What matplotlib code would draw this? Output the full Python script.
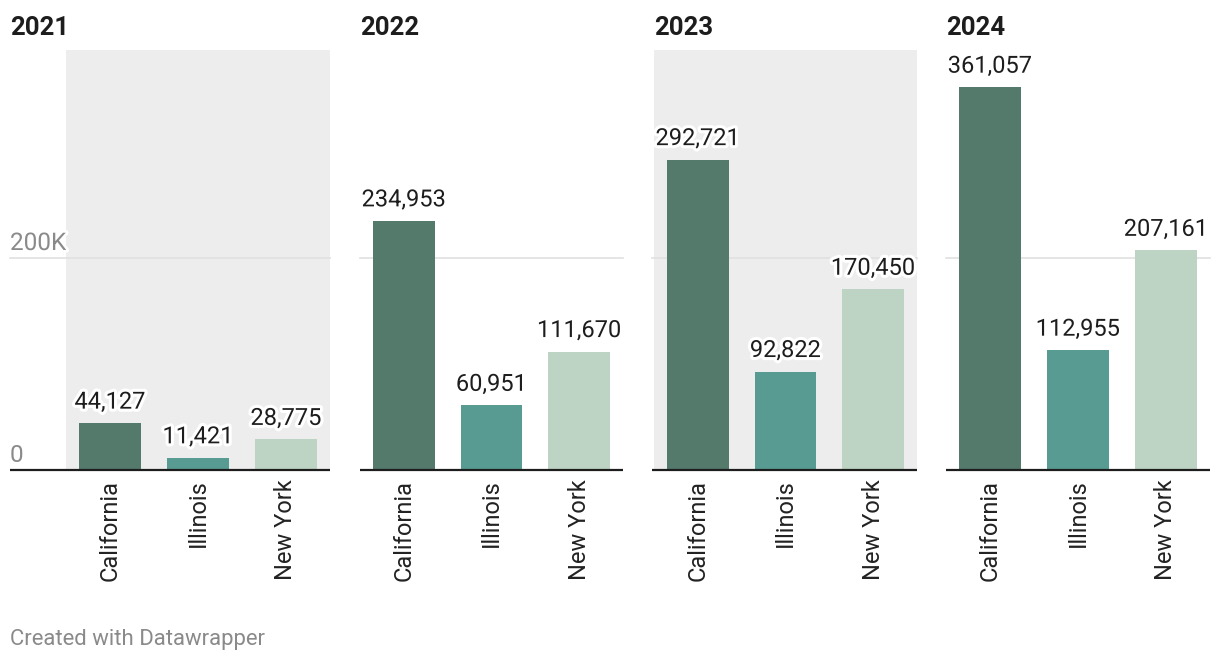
import matplotlib
matplotlib.use("Agg")
import matplotlib.pyplot as plt
import matplotlib.patheffects as pe
import matplotlib.transforms as mtransforms

plt.rcParams['font.family'] = ['Roboto', 'DejaVu Sans']

# ---- data ----
years = ['2021', '2022', '2023', '2024']
states = ['California', 'Illinois', 'New York']
california = [44127, 234953, 292721, 361057]
illinois = [11421, 60951, 92822, 112955]
new_york = [28775, 111670, 170450, 207161]
y_ticks = [0, 200000]
y_tick_labels = ['0', '200K']

# ---- style / layout ----
colors = ['#547a6c', '#589b92', '#bdd4c4']
W, H = 1220, 662
panel_x = [(66, 330), (360, 623), (654, 917), (946, 1210)]
title_x = [10, 360, 654, 946]
base_start = [10, 360, 652, 946]
shaded = [True, False, True, False]
y_top, y_bot, y_grid = 50, 470, 258
ymax = 200000 * (y_bot - y_top) / (y_bot - y_grid)

fig = plt.figure(figsize=(W / 100, H / 100), dpi=100)

for p, year in enumerate(years):
    x0, x1 = panel_x[p]
    ax = fig.add_axes([x0 / W, 1 - y_bot / H, (x1 - x0) / W, (y_bot - y_top) / H])
    vals = [california[p], illinois[p], new_york[p]]
    ax.set_facecolor('#ededed' if shaded[p] else 'none')
    ax.bar(range(3), vals, width=0.7, color=colors, zorder=2)
    ax.set_xlim(-0.5, 2.5)
    ax.set_ylim(0, ymax)
    for s in ax.spines.values():
        s.set_visible(False)
    ax.set_yticks([])
    ax.set_xticks(range(3))
    ax.set_xticklabels(states, rotation=90, fontsize=17, color='#222222')
    ax.tick_params(axis='x', length=0, pad=7)

    trans = ax.get_yaxis_transform()
    xs = (base_start[p] - x0) / (x1 - x0)
    # grid line at 200K
    ax.plot([xs, 1], [y_ticks[1]] * 2, transform=trans, color='#e0e0e0',
            lw=1.2, clip_on=False, zorder=1)
    # baseline
    ax.plot([xs, 1], [0, 0], transform=trans, color='#1d1d1d',
            lw=1.6, clip_on=False, zorder=3, solid_capstyle='butt')

    if p == 0:
        off = mtransforms.offset_copy(trans, fig=fig, x=0, y=8, units='dots')
        for yt, lab in zip(y_ticks, y_tick_labels):
            ax.text(xs, yt, lab, transform=off, ha='left', va='baseline',
                    fontsize=17.5, color='#8a8a8a', zorder=4,
                    path_effects=[pe.withStroke(linewidth=4, foreground='white')] if yt else None)

    for i, v in enumerate(vals):
        ax.annotate(f'{v:,}', (i, v), xytext=(0, 10.5), textcoords='offset points',
                    ha='center', va='baseline', fontsize=17, color='#1d1d1d',
                    zorder=5, annotation_clip=False,
                    path_effects=[pe.withStroke(linewidth=4.5, foreground='white')])

    fig.text(title_x[p] / W, 1 - 35 / H, year, ha='left', va='baseline',
             fontsize=18.5, fontweight='bold', color='#1d1d1d')

fig.text(10 / W, 1 - 645 / H, 'Created with Datawrapper', ha='left',
         va='baseline', fontsize=15.9, color='#8a8a8a')

fig.savefig('out.png', dpi=100)
